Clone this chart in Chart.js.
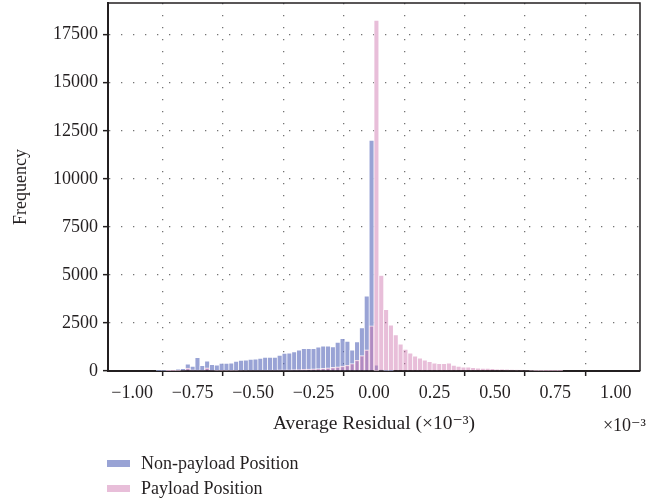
<!DOCTYPE html>
<html>
<head>
<meta charset="utf-8">
<title>Average Residual Histogram</title>
<script src="https://cdn.jsdelivr.net/npm/chart.js@4/dist/chart.umd.min.js"></script>
<style>
  body { margin: 0; background: #fff; }
  #wrap { position: relative; width: 664px; height: 502px; }
  #legend {
    position: absolute; left: 107px; top: 451px;
    font-family: "Liberation Serif", serif; font-size: 18px; color: #231f20;
  }
  #legend .item { display: flex; align-items: center; height: 25px; }
  #legend .swatch { width: 23px; height: 7px; margin-right: 11px; }
</style>
</head>
<body>
<div id="wrap">
  <canvas id="residualChart" width="664" height="502"></canvas>
  <div id="legend"></div>
</div>
<script>
// Histogram bins (bin centres, width 0.02, in units of 1e-3)
const binCenters = [
  -0.89, -0.87, -0.85, -0.83, -0.81, -0.79, -0.77, -0.75, -0.73, -0.71,
  -0.69, -0.67, -0.65, -0.63, -0.61, -0.59, -0.57, -0.55, -0.53, -0.51,
  -0.49, -0.47, -0.45, -0.43, -0.41, -0.39, -0.37, -0.35, -0.33, -0.31,
  -0.29, -0.27, -0.25, -0.23, -0.21, -0.19, -0.17, -0.15, -0.13, -0.11,
  -0.09, -0.07, -0.05, -0.03, -0.01, 0.01, 0.03, 0.05, 0.07, 0.09,
  0.11, 0.13, 0.15, 0.17, 0.19, 0.21, 0.23, 0.25, 0.27, 0.29,
  0.31, 0.33, 0.35, 0.37, 0.39, 0.41, 0.43, 0.45, 0.47, 0.49,
  0.51, 0.53, 0.55, 0.57, 0.59, 0.61, 0.63, 0.65, 0.67, 0.69,
  0.71, 0.73, 0.75, 0.77
];

const nonPayloadCounts = [
  10, 15, 25, 40, 100, 120, 360, 240, 690, 280,
  520, 330, 310, 400, 400, 415, 500, 550, 570, 605,
  620, 655, 710, 710, 710, 815, 920, 935, 1000, 1090,
  1160, 1160, 1160, 1245, 1300, 1300, 1260, 1490, 1680, 1540,
  1090, 1520, 2240, 3900, 12000, 300, 60, 20, 10, 0,
  0, 0, 0, 0, 0, 0, 0, 0, 0, 0,
  0, 0, 0, 0, 0, 0, 0, 0, 0, 0,
  0, 0, 0, 0, 0, 0, 0, 0, 0, 0,
  0, 0, 0, 0
];

const payloadCounts = [
  0, 0, 5, 10, 20, 40, 150, 60, 50, 40,
  160, 40, 30, 30, 30, 30, 30, 35, 35, 40,
  40, 40, 45, 45, 50, 55, 60, 65, 70, 80,
  90, 100, 110, 125, 140, 160, 185, 215, 250, 300,
  390, 560, 800, 1100, 2350, 18250, 4970, 3200, 2390, 1885,
  1400, 1125, 935, 780, 675, 570, 485, 415, 380, 380,
  415, 295, 240, 205, 205, 170, 155, 135, 135, 120,
  100, 100, 80, 70, 55, 50, 40, 30, 20, 15,
  10, 8, 5, 3
];

const seriesNames = ['Non-payload Position', 'Payload Position'];
const seriesColors = ['rgba(80, 96, 182, 0.58)', 'rgba(204, 110, 170, 0.45)'];

const xTickValues = [-1, -0.75, -0.5, -0.25, 0, 0.25, 0.5, 0.75, 1];
const yTickValues = [0, 2500, 5000, 7500, 10000, 12500, 15000, 17500];

const INK = '#231f20';
const FONT = '"Liberation Serif", "DejaVu Serif", serif';
const FONT_SIZE = 18;

function toPoints(counts) {
  return binCenters.map((x, i) => ({ x: x, y: counts[i] }));
}

function formatTick(value) {
  const s = Math.abs(value).toFixed(2);
  return value < 0 ? '\u2212' + s : s;
}

// Top and right spines plus the axis multiplier text
const framePlugin = {
  id: 'frame',
  afterDraw(chart) {
    const { ctx, chartArea: a } = chart;
    ctx.save();
    ctx.strokeStyle = INK;
    ctx.lineWidth = 1.5;
    ctx.beginPath();
    ctx.moveTo(a.left, a.top);
    ctx.lineTo(a.right, a.top);
    ctx.lineTo(a.right, a.bottom);
    ctx.stroke();

    ctx.fillStyle = INK;
    ctx.font = FONT_SIZE + 'px ' + FONT;
    ctx.textAlign = 'right';
    ctx.textBaseline = 'alphabetic';
    ctx.fillText('\u00d710\u207b\u00b3', 646, 431);
    ctx.restore();
  }
};

const gridLines = {
  color: 'rgba(90, 90, 90, 0.85)',
  lineWidth: 1.3,
  tickLength: 5,
  tickColor: INK,
  tickWidth: 1.5,
  tickBorderDash: []
};

const chartConfig = {
  type: 'bar',
  data: {
    datasets: [
      {
        label: seriesNames[0],
        data: toPoints(nonPayloadCounts),
        backgroundColor: seriesColors[0],
        borderColor: 'rgba(255, 255, 255, 0.9)',
        borderWidth: 0.7,
        order: 1
      },
      {
        label: seriesNames[1],
        data: toPoints(payloadCounts),
        backgroundColor: seriesColors[1],
        borderColor: 'rgba(255, 255, 255, 0.9)',
        borderWidth: 0.7,
        order: 0
      }
    ]
  },
  options: {
    responsive: false,
    animation: false,
    layout: { padding: { left: 0, top: 3, right: 24, bottom: 66 } },
    datasets: {
      bar: { grouped: false, barPercentage: 1, categoryPercentage: 1 }
    },
    plugins: {
      legend: { display: false },
      tooltip: { enabled: false }
    },
    scales: {
      x: {
        type: 'linear',
        min: -1.1,
        max: 1.1,
        offset: false,
        afterBuildTicks: scale => { scale.ticks = xTickValues.map(v => ({ value: v })); },
        afterFit: scale => {
          scale.height = 65;
          scale.paddingLeft = 0;
          scale.paddingRight = 0;
        },
        grid: gridLines,
        border: { color: INK, width: 2, dash: [1.3, 10.7] },
        ticks: {
          color: INK,
          padding: 6,
          maxRotation: 0,
          font: { family: FONT, size: FONT_SIZE },
          callback: value => formatTick(value)
        },
        title: {
          display: true,
          text: 'Average Residual (\u00d710\u207b\u00b3)',
          color: INK,
          padding: 0,
          font: { family: FONT, size: 19.5 }
        }
      },
      y: {
        min: 0,
        max: 19150,
        afterBuildTicks: scale => { scale.ticks = yTickValues.map(v => ({ value: v })); },
        afterFit: scale => {
          scale.width = 108;
          scale.paddingTop = 0;
          scale.paddingBottom = 0;
        },
        grid: gridLines,
        border: { color: INK, width: 2, dash: [1.3, 10.7] },
        ticks: {
          color: INK,
          padding: 5,
          font: { family: FONT, size: FONT_SIZE },
          callback: value => String(value)
        },
        title: {
          display: true,
          text: 'Frequency',
          color: INK,
          padding: { top: 10, bottom: 0 },
          font: { family: FONT, size: FONT_SIZE }
        }
      }
    }
  },
  plugins: [framePlugin]
};

const chart = new Chart(document.getElementById('residualChart'), chartConfig);

// Legend stacked below the plot
const legendEl = document.getElementById('legend');
seriesNames.forEach((name, i) => {
  const item = document.createElement('div');
  item.className = 'item';
  const sw = document.createElement('span');
  sw.className = 'swatch';
  sw.style.background = seriesColors[i];
  const label = document.createElement('span');
  label.textContent = name;
  item.appendChild(sw);
  item.appendChild(label);
  legendEl.appendChild(item);
});
</script>
</body>
</html>
